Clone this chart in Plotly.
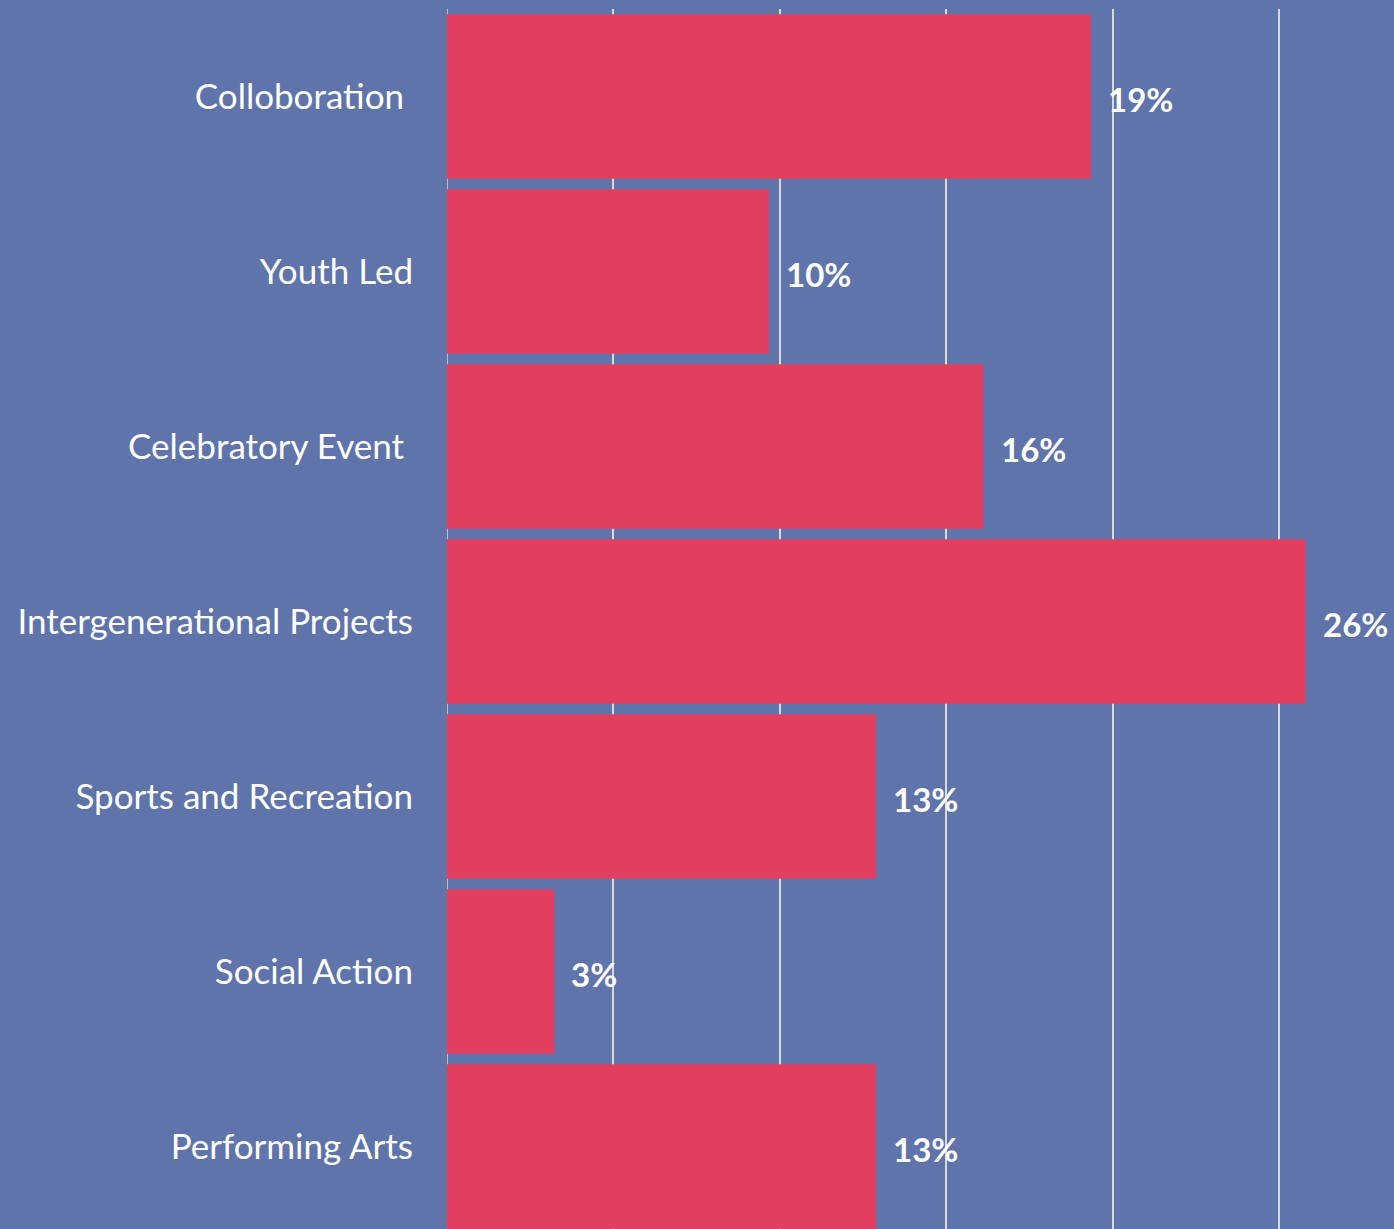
import plotly.graph_objects as go

categories = ["Colloboration ", "Youth Led", "Celebratory Event ", "Intergenerational Projects",
              "Sports and Recreation", "Social Action", "Performing Arts"]
counts = [6, 3, 5, 8, 4, 1, 4]
total = sum(counts)
shares = [c / total for c in counts]
labels = [f"{round(s*100):.0f}%" for s in shares]

BG = "#6074AC"
BAR = "#E23F60"
FONT = "Lato"

fig = go.Figure()
fig.add_trace(go.Bar(
    y=categories, x=shares, orientation="h",
    marker=dict(color=BAR, line=dict(width=0)),
    width=0.94, hoverinfo="skip",
))
for cat, s, lab in zip(categories, shares, labels):
    fig.add_annotation(x=s, y=cat, text=f"<b>{lab}</b>", showarrow=False,
                       xanchor="left", yanchor="middle", xshift=15, yshift=-2,
                       font=dict(family=FONT, size=33, color="white"))

fig.update_layout(
    width=1394, height=1229,
    margin=dict(l=447, r=0, t=9, b=0, autoexpand=False),
    paper_bgcolor=BG, plot_bgcolor=BG,
    showlegend=False,
    xaxis=dict(range=[0, 0.2846], dtick=0.05, showgrid=True, gridcolor="#D9D9D9",
               gridwidth=1.5, zeroline=False, showticklabels=False, ticks=""),
    yaxis=dict(autorange=False, range=[6.471, -0.5], showgrid=False, zeroline=False,
               ticks="", ticklabelstandoff=33,
               tickfont=dict(family=FONT, size=35, color="white")),
)
fig.add_shape(type="line", xref="x", yref="paper", x0=0, x1=0, y0=0, y1=1,
              line=dict(color="#D9D9D9", width=1.5), layer="below")
fig.write_html("out.html", config={"displayModeBar": False},
               post_script="document.body.style.margin='0';document.body.style.overflow='hidden';")
